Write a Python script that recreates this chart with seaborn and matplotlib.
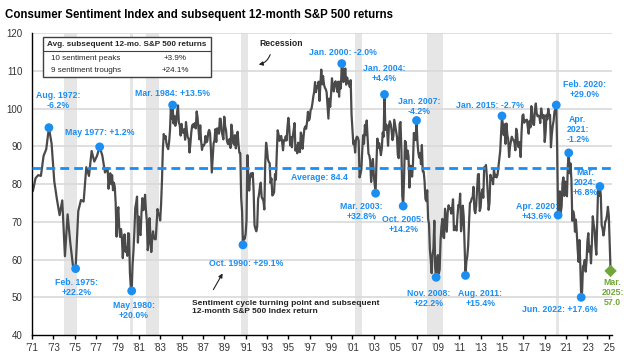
import matplotlib
matplotlib.use("Agg")
import matplotlib.pyplot as plt
from matplotlib.patches import Rectangle
import numpy as np
import pandas as pd
import seaborn as sns

# Consumer Sentiment, quarterly readings (Feb, May, Aug, Nov) 1971-1977
sent_1971_77 = [78.2, 81.6, 82.4, 82.2, 87.5, 89.3, 95.0, 90.8,
                80.8, 76.0, 71.8, 75.7, 60.9, 72.0, 64.5, 58.4,
                57.6, 72.9, 75.8, 75.4, 84.5, 82.2, 88.8, 86.0,
                87.5, 89.9, 87.6, 83.1]
# monthly readings from Jan 1978
sent_1978_89 = [83.7, 84.3, 78.8, 81.6, 82.9, 80.0, 82.4, 78.4, 80.4, 79.3, 75.0, 66.1,
                72.1, 73.9, 68.4, 66.0, 68.1, 65.8, 60.4, 64.5, 66.7, 62.1, 63.3, 61.0,
                67.0, 66.9, 56.5, 52.7, 51.7, 58.7, 62.3, 67.3, 73.7, 75.0, 76.7, 64.5,
                71.4, 66.9, 66.5, 72.4, 76.3, 73.1, 74.1, 77.2, 73.1, 70.3, 62.5, 64.3,
                71.0, 66.5, 62.0, 65.5, 67.5, 65.7, 65.4, 65.4, 69.3, 73.4, 72.1, 71.9,
                70.4, 74.6, 80.8, 89.1, 93.3, 92.2, 92.8, 90.9, 89.9, 89.3, 91.1, 94.2,
                100.1, 97.4, 101.0, 96.1, 98.1, 95.5, 96.6, 99.1, 100.9, 96.3, 95.7, 92.9,
                96.0, 93.7, 93.7, 94.6, 91.8, 96.5, 94.0, 92.4, 92.1, 88.4, 90.9, 93.9,
                95.6, 95.9, 95.1, 96.2, 94.8, 99.3, 97.7, 94.9, 91.9, 95.6, 91.4, 89.1,
                90.4, 90.2, 90.8, 92.8, 91.1, 91.5, 93.7, 94.4, 93.6, 89.3, 83.1, 86.8,
                90.8, 91.6, 94.6, 91.2, 94.8, 94.7, 93.4, 97.4, 97.3, 94.1, 93.0, 91.9,
                97.9, 95.4, 94.3, 91.5, 90.7, 90.6, 92.0, 89.6, 95.8, 93.9, 90.9, 90.5]
sent_1990_99 = [93.0, 89.5, 91.3, 93.9, 90.6, 88.3, 88.2, 76.4, 72.8, 63.9, 66.0, 65.5,
                66.8, 70.4, 87.7, 81.8, 78.3, 82.1, 82.9, 82.0, 83.0, 78.3, 69.1, 68.2,
                67.5, 68.8, 76.0, 77.2, 79.2, 80.4, 76.6, 76.1, 75.6, 73.3, 85.3, 91.0,
                89.3, 86.6, 85.9, 85.6, 80.3, 81.5, 77.0, 77.3, 77.9, 82.7, 81.2, 88.2,
                94.3, 93.2, 91.5, 92.6, 92.8, 91.2, 89.0, 91.7, 91.5, 92.7, 91.6, 95.1,
                97.6, 95.1, 90.3, 92.5, 89.8, 92.7, 94.4, 96.2, 88.9, 90.2, 88.2, 91.0,
                89.3, 88.5, 93.7, 92.7, 89.4, 92.4, 94.7, 95.3, 94.7, 96.5, 99.2, 96.9,
                97.4, 99.7, 100.0, 101.4, 103.2, 104.5, 107.1, 104.4, 106.0, 105.6, 107.2, 102.1,
                106.6, 110.4, 106.5, 108.7, 106.5, 105.6, 105.2, 104.4, 100.9, 97.4, 102.7, 100.5,
                103.9, 108.1, 105.7, 104.6, 106.8, 107.3, 106.0, 104.5, 107.2, 103.2, 107.2, 105.4]
sent_2000_09 = [112.0, 111.3, 107.1, 109.2, 110.7, 106.4, 108.3, 107.3, 106.8, 105.8, 107.6, 98.4,
                94.7, 90.6, 91.5, 88.4, 92.0, 92.6, 92.4, 91.5, 81.8, 82.7, 83.9, 88.8,
                93.0, 90.7, 95.7, 93.0, 96.9, 92.4, 88.1, 87.6, 86.1, 80.6, 84.2, 86.7,
                82.4, 79.9, 77.6, 86.0, 92.1, 89.7, 90.9, 89.3, 87.7, 89.6, 93.7, 92.6,
                103.8, 94.4, 95.8, 94.2, 90.2, 95.6, 96.7, 95.9, 94.2, 91.7, 92.8, 97.1,
                95.5, 94.1, 92.6, 87.7, 86.9, 96.0, 96.5, 89.1, 76.9, 74.2, 81.6, 91.5,
                91.2, 86.7, 88.9, 87.4, 79.1, 84.9, 84.7, 82.0, 85.4, 93.6, 92.1, 91.7,
                96.9, 91.3, 88.4, 87.1, 88.3, 85.3, 90.4, 83.4, 83.4, 80.9, 76.1, 75.5,
                78.4, 70.8, 69.5, 62.6, 59.8, 56.4, 61.2, 63.0, 70.3, 57.6, 55.3, 60.1,
                61.2, 56.3, 57.3, 65.1, 68.7, 70.8, 66.0, 65.7, 73.5, 70.6, 67.4, 72.5]
sent_2010_19 = [74.4, 73.6, 73.6, 72.2, 73.6, 76.0, 67.8, 68.9, 68.2, 67.7, 71.6, 74.5,
                74.2, 77.5, 67.5, 69.8, 74.3, 71.5, 63.7, 55.8, 59.5, 60.8, 63.7, 69.9,
                75.0, 75.3, 76.2, 76.4, 79.3, 73.2, 72.3, 74.3, 78.3, 82.6, 82.7, 72.9,
                73.8, 77.6, 78.6, 76.4, 84.5, 84.1, 85.1, 82.1, 77.5, 73.2, 75.1, 82.5,
                81.2, 81.6, 80.0, 84.1, 81.9, 82.5, 81.8, 82.5, 84.6, 86.9, 88.8, 93.6,
                98.1, 95.4, 93.0, 95.9, 90.7, 96.1, 93.1, 91.9, 87.2, 90.0, 91.3, 92.6,
                92.0, 91.7, 91.0, 89.0, 94.7, 93.5, 90.0, 89.8, 91.2, 87.2, 93.8, 98.2,
                98.5, 96.3, 96.9, 97.0, 97.1, 95.1, 93.4, 96.8, 95.1, 100.7, 98.5, 95.9,
                95.7, 99.7, 101.4, 98.8, 98.0, 98.2, 97.9, 96.2, 100.1, 98.6, 97.5, 98.3,
                91.2, 93.8, 98.4, 97.2, 100.0, 98.2, 98.4, 89.8, 93.2, 95.5, 96.8, 99.3]
sent_2020_25 = [99.8, 101.0, 89.1, 71.8, 72.3, 78.1, 72.5, 74.1, 80.4, 81.8, 76.9, 80.7,
                79.0, 76.8, 84.9, 88.3, 82.9, 85.5, 81.2, 70.3, 72.8, 71.7, 67.4, 70.6,
                67.2, 62.8, 59.4, 65.2, 58.4, 50.0, 51.5, 58.2, 58.6, 59.9, 56.8, 59.7,
                64.9, 67.0, 62.0, 63.5, 59.0, 64.4, 71.5, 69.4, 67.9, 63.8, 61.3, 69.7,
                79.0, 76.9, 79.4, 77.2, 69.1, 68.2, 66.4, 67.9, 70.1, 70.5, 71.8, 74.0,
                71.7, 64.7, 57.0]

avg_sentiment = 84.4

# NBER recessions (decimal years)
recession_start = [1973.95, 1980.15, 1981.65, 1990.55, 2001.25, 2007.95, 2020.1]
recession_end = [1975.2, 1980.5, 1982.85, 1991.2, 2001.85, 2009.5, 2020.3]

# turning points: (year, month), label, label offset in pixels
turn_dates = [(1972, 8), (1977, 5), (1984, 3), (2000, 1), (2004, 1), (2007, 1),
              (2015, 1), (2020, 2), (2021, 4), (2024, 3),
              (1975, 2), (1980, 5), (1990, 10), (2003, 3), (2005, 10), (2008, 11),
              (2011, 8), (2020, 4), (2022, 6)]
turn_labels = ["Aug. 1972:\n-6.2%", "May 1977: +1.2%", "Mar. 1984: +13.5%",
               "Jan. 2000: -2.0%", "Jan. 2004:\n+4.4%", "Jan. 2007:\n-4.2%",
               "Jan. 2015: -2.7%", "Feb. 2020:\n+29.0%", "Apr.\n2021:\n-1.2%",
               "Mar.\n2024:\n+6.8%",
               "Feb. 1975:\n+22.2%", "May 1980:\n+20.0%", "Oct. 1990: +29.1%",
               "Mar. 2003:\n+32.8%", "Oct. 2005:\n+14.2%", "Nov. 2008:\n+22.2%",
               "Aug. 2011:\n+15.4%", "Apr. 2020:\n+43.6%", "Jun. 2022: +17.6%"]
turn_offsets = [(9, 27), (0, 14), (0, 12), (1, 11), (0, 21), (3, 14),
                (-12, 10), (28, 16), (9, 23), (-15, 4),
                (1, -19), (2, -20), (3, -19), (-14, -18), (0, -18), (-7, -21),
                (15, -23), (-21, 4), (-21, -12)]
latest_date = (2025, 3)
latest_label = "Mar.\n2025:\n57.0"

# ---- build the series
early_x = [y + (m - 1) / 12 for y in range(1971, 1978) for m in (2, 5, 8, 11)]
monthly_vals = sent_1978_89 + sent_1990_99 + sent_2000_09 + sent_2010_19 + sent_2020_25
monthly_x = [1978 + i / 12 for i in range(len(monthly_vals))]
df = pd.DataFrame({"date": early_x + monthly_x, "sentiment": sent_1971_77 + monthly_vals})


def lookup(ym):
    x = ym[0] + (ym[1] - 1) / 12
    i = (df["date"] - x).abs().idxmin()
    return df.loc[i, "date"], df.loc[i, "sentiment"]


pts = pd.DataFrame([lookup(d) for d in turn_dates], columns=["date", "sentiment"])
last = pd.DataFrame([lookup(latest_date)], columns=["date", "sentiment"])

BLUE = "#1B8EF2"
GREEN = "#72A63A"

sns.set_style("white")
plt.rcParams["font.family"] = ["Liberation Sans", "DejaVu Sans"]

W, H = 624, 354
fig = plt.figure(figsize=(W / 100, H / 100), dpi=100)
ax = fig.add_axes([32 / W, 1 - 335 / H, 580 / W, 301.6 / H])


def fpx(px, py):
    return px / W, 1 - py / H


for s, e in zip(recession_start, recession_end):
    ax.axvspan(s, e, color="#E6E6E6", lw=0, zorder=0)

ax.set_ylim(40, 120)
ax.set_xlim(1971, 2025.3)
ax.set_yticks(range(40, 121, 10))
for v in range(50, 121, 10):
    ax.axhline(v, color="#D9D9D9", lw=1.2, zorder=0.5)

sns.lineplot(data=df, x="date", y="sentiment", ax=ax, color="#4A4A4A", lw=1.6, zorder=2)
ax.axhline(avg_sentiment, color=BLUE, lw=2.0, dashes=(3.2, 1.8), zorder=3)
sns.scatterplot(data=pts, x="date", y="sentiment", ax=ax, color=BLUE, s=40,
                edgecolor="none", zorder=4)
sns.scatterplot(data=last, x="date", y="sentiment", ax=ax, color=GREEN, s=40,
                marker="D", edgecolor="none", zorder=4, clip_on=False)

for (x, v), lab, (dx, dy) in zip(pts.values, turn_labels, turn_offsets):
    ax.annotate(lab, (x, v), xytext=(dx * 0.72, dy * 0.72), textcoords="offset points",
                ha="center", va="center", color=BLUE, fontsize=6.3, fontweight="bold",
                linespacing=1.15, zorder=6)
ax.annotate(latest_label, (last["date"][0], last["sentiment"][0]), xytext=(2 * 0.72, -22 * 0.72),
            textcoords="offset points", ha="center", va="center", color=GREEN,
            fontsize=6.3, fontweight="bold", linespacing=1.15, zorder=6,
            annotation_clip=False)
ax.text(1997.9, avg_sentiment - 2.55, "Average: 84.4", ha="center", va="center",
        color=BLUE, fontsize=6.3, fontweight="bold", zorder=6)

# axes styling
sns.despine(ax=ax)
ax.spines["left"].set_color("black")
ax.spines["bottom"].set_color("black")
ax.spines["left"].set_linewidth(1.0)
ax.spines["bottom"].set_linewidth(1.0)
xt = list(range(1971, 2026, 2))
ax.set_xticks(xt)
ax.set_xticklabels(["\u2019%02d" % (y % 100) for y in xt])
ax.tick_params(axis="x", length=3, width=1, color="black", pad=3, labelsize=7,
               labelcolor="#333333", direction="out", bottom=True)
ax.tick_params(axis="y", length=0, pad=7, labelsize=7, labelcolor="#333333")
ax.set_xlabel("")
ax.set_ylabel("")

# title
fig.text(*fpx(5, 15), "Consumer Sentiment Index and subsequent 12-month S&P 500 returns",
         fontsize=8.3, fontweight="bold", ha="left", va="center", color="black")

# summary table
box = Rectangle(fpx(43, 77), 168 / W, 40 / H, transform=fig.transFigure,
                facecolor="white", edgecolor="#404040", lw=1.0, zorder=7)
ax.add_patch(box)
ax.add_line(plt.Line2D([43 / W, 211 / W], [1 - 51 / H] * 2, transform=fig.transFigure,
                       color="#404040", lw=0.8, zorder=8))
fig.text(*fpx(127, 45), "Avg. subsequent 12-mo. S&P 500 returns", fontsize=5.9,
         fontweight="bold", ha="center", va="center", zorder=9)
fig.text(*fpx(51, 58), "10 sentiment peaks", fontsize=5.8, ha="left", va="center", zorder=9)
fig.text(*fpx(175, 58), "+3.9%", fontsize=5.8, ha="center", va="center", zorder=9)
fig.text(*fpx(51, 70), "9 sentiment troughs", fontsize=5.8, ha="left", va="center", zorder=9)
fig.text(*fpx(175, 70), "+24.1%", fontsize=5.8, ha="center", va="center", zorder=9)

# recession note
fig.text(*fpx(281, 43), "Recession", fontsize=6.2, fontweight="bold", ha="center",
         va="center", color="#222222")
ax.annotate("", xy=fpx(256, 65), xytext=fpx(271, 52), xycoords="figure fraction",
            textcoords="figure fraction",
            arrowprops=dict(arrowstyle="-|>", color="#222222", lw=0.8,
                            mutation_scale=6, connectionstyle="arc3,rad=-0.35"))

# turning point note
fig.text(*fpx(192, 307.5), "Sentiment cycle turning point and subsequent\n12-month S&P 500 Index return",
         fontsize=6.0, fontweight="bold", ha="left", va="center", color="#222222",
         linespacing=1.1)
ax.annotate("", xy=fpx(224, 271), xytext=fpx(212, 292), xycoords="figure fraction",
            textcoords="figure fraction",
            arrowprops=dict(arrowstyle="-|>", color="#222222", lw=0.8, mutation_scale=6))

fig.savefig("out.png", dpi=100)
